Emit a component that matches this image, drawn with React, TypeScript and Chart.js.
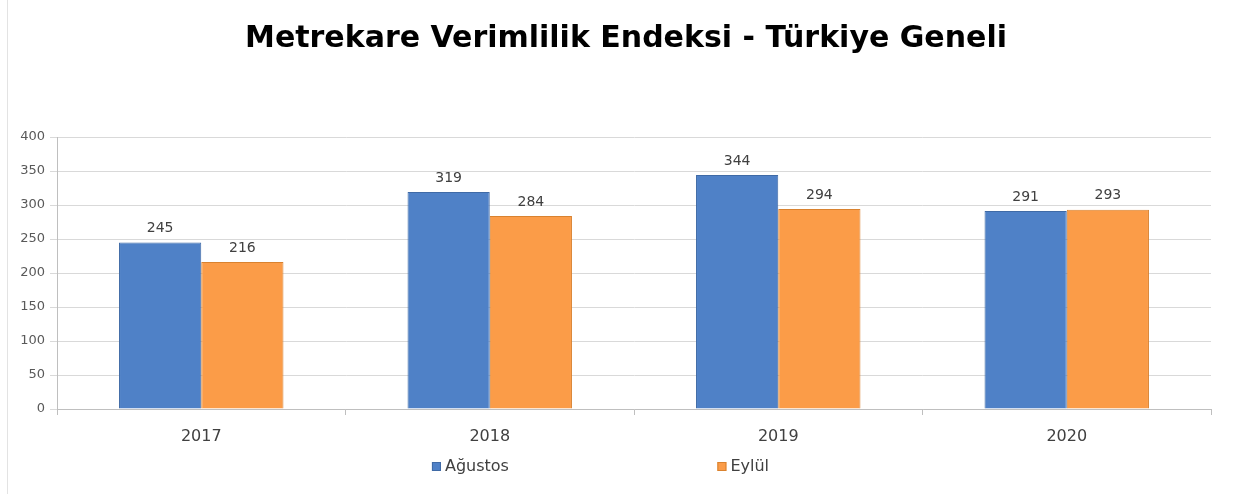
import React, { useEffect, useRef } from "react";
import { Chart, registerables } from "chart.js";

Chart.register(...registerables);

const titleText = "Metrekare Verimlilik Endeksi - Türkiye Geneli";
const categories = ["2017", "2018", "2019", "2020"];
const seriesNames = ["Ağustos", "Eylül"];
const agustosValues = [245, 319, 344, 291];
const eylulValues = [216, 284, 294, 293];
const yTickValues = [0, 50, 100, 150, 200, 250, 300, 350, 400];

const BLUE = "#4f81c7";
const BLUE_BORDER = "#3f6aa6";
const ORANGE = "#fb9c48";
const ORANGE_BORDER = "#d9822f";

const dataLabelPlugin = {
  id: "dataLabels",
  afterDatasetsDraw(chart: any) {
    const ctx = chart.ctx;
    ctx.save();
    ctx.font = "14px 'DejaVu Sans'";
    ctx.fillStyle = "#404040";
    ctx.textAlign = "center";
    ctx.textBaseline = "bottom";
    chart.data.datasets.forEach((ds: any, di: number) => {
      const meta = chart.getDatasetMeta(di);
      meta.data.forEach((el: any, i: number) => {
        ctx.fillText(String(ds.data[i]), el.x, el.y - 7);
      });
    });
    ctx.restore();
  },
};

const legendPlugin = {
  id: "spreadLegend",
  afterDraw(chart: any) {
    const ctx = chart.ctx;
    const positions = [0.345, 0.573];
    const y = 467;
    ctx.save();
    ctx.font = "16px 'DejaVu Sans'";
    ctx.textBaseline = "middle";
    ctx.textAlign = "left";
    chart.data.datasets.forEach((ds: any, i: number) => {
      const x = chart.width * positions[i];
      ctx.fillStyle = ds.backgroundColor;
      ctx.fillRect(x, y - 5, 9, 9);
      ctx.strokeStyle = ds.borderColor;
      ctx.lineWidth = 1;
      ctx.strokeRect(x + 0.5, y - 4.5, 8, 8);
      ctx.fillStyle = "#404040";
      ctx.fillText(ds.label, x + 13, y);
    });
    ctx.restore();
  },
};

export default function App() {
  const canvasRef = useRef<HTMLCanvasElement | null>(null);

  useEffect(() => {
    document.body.style.margin = "0";
    const canvas = canvasRef.current;
    if (!canvas) return;
    const chart = new Chart(canvas, {
      type: "bar",
      data: {
        labels: categories,
        datasets: [
          {
            label: seriesNames[0],
            data: agustosValues,
            backgroundColor: BLUE,
            borderColor: BLUE_BORDER,
            borderWidth: 1,
            categoryPercentage: 0.57,
            barPercentage: 1,
          },
          {
            label: seriesNames[1],
            data: eylulValues,
            backgroundColor: ORANGE,
            borderColor: ORANGE_BORDER,
            borderWidth: 1,
            categoryPercentage: 0.57,
            barPercentage: 1,
          },
        ],
      },
      options: {
        animation: false,
        responsive: false,
        maintainAspectRatio: false,
        layout: { padding: { left: 0, right: 0, top: 0, bottom: 40 } },
        plugins: {
          legend: { display: false },
          tooltip: { enabled: false },
          title: {
            display: true,
            text: titleText,
            color: "#000000",
            font: { family: "'DejaVu Sans'", size: 30, weight: "bold" },
            padding: { top: 21, bottom: 80 },
          },
        },
        scales: {
          x: {
            grid: {
              display: true,
              drawOnChartArea: false,
              drawTicks: true,
              tickLength: 6,
              color: "#bfbfbf",
            },
            border: { display: true, color: "#bfbfbf" },
            ticks: {
              color: "#404040",
              font: { family: "'DejaVu Sans'", size: 16 },
              padding: 12,
            },
            afterFit(scale: any) {
              scale.height = 45;
            },
          },
          y: {
            min: 0,
            max: 400,
            afterBuildTicks(scale: any) {
              scale.ticks = yTickValues.map((v) => ({ value: v }));
            },
            grid: {
              color: "#d9d9d9",
              tickLength: 7,
            },
            border: { display: true, color: "#bfbfbf" },
            ticks: {
              color: "#595959",
              font: { family: "'DejaVu Sans'", size: 13 },
              padding: 5,
            },
            afterFit(scale: any) {
              scale.width = 57;
            },
          },
          yRightSpace: {
            type: "linear",
            position: "right",
            display: true,
            grid: { display: false, drawOnChartArea: false, drawTicks: false },
            border: { display: false },
            ticks: { display: false },
            afterFit(scale: any) {
              scale.width = 41;
            },
          },
        },
      },
      plugins: [dataLabelPlugin, legendPlugin],
    });
    return () => chart.destroy();
  }, []);

  return (
    <div style={{ position: "relative", width: 1252, height: 494, background: "#ffffff" }}>
      <div
        style={{
          position: "absolute",
          left: 7,
          top: 0,
          width: 1,
          height: 494,
          background: "#e3e3e3",
        }}
      />
      <canvas ref={canvasRef} width={1252} height={494} style={{ display: "block" }} />
    </div>
  );
}
